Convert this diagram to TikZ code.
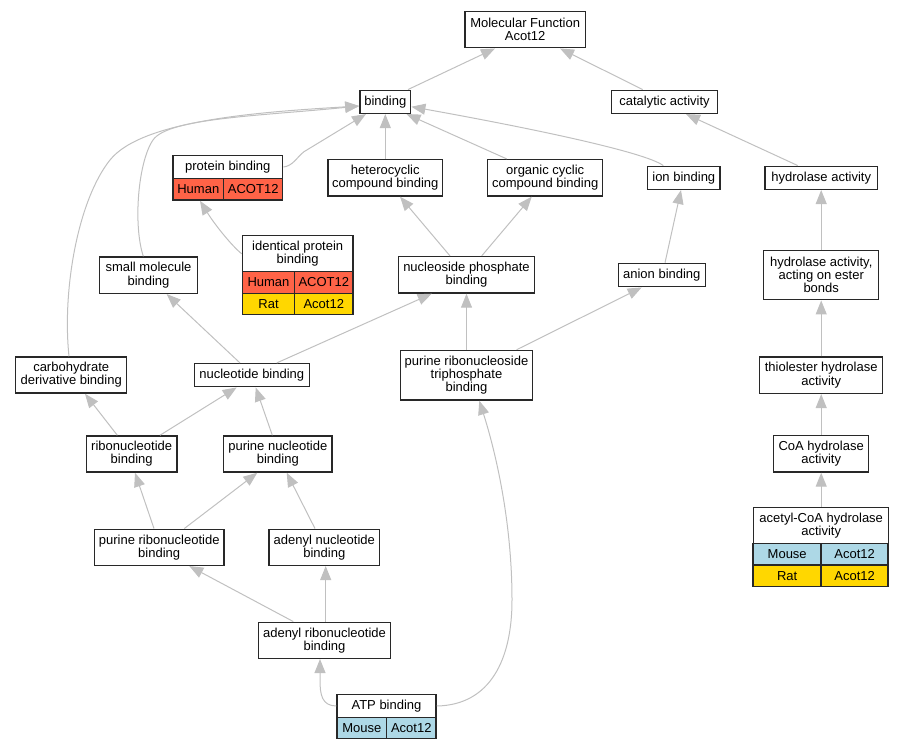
\documentclass[tikz,border=0pt]{standalone}
\usepackage{fontspec}
\newfontfamily\gofont{Liberation Sans}
\usetikzlibrary{arrows.meta}
\definecolor{edgegray}{RGB}{192,192,192}
\definecolor{bordergray}{RGB}{40,40,40}
\definecolor{human}{RGB}{255,99,71}
\definecolor{rat}{RGB}{255,215,0}
\definecolor{mouse}{RGB}{173,216,230}
\begin{document}
\begin{tikzpicture}[x=1pt,y=-1pt,
  gobox/.style={draw=bordergray, line width=1.5pt, fill=white, inner sep=0pt, align=center, font=\gofont\fontsize{13}{13.2}\selectfont},
  edge/.style={draw=edgegray, line width=1pt, -{Triangle[length=14pt,width=11pt]}}]
\useasboundingbox (0,0) rectangle (904,749);
% nodes
\node[gobox, minimum width=120.3pt, minimum height=36pt] (mf) at (525.2,29.7) {Molecular Function\\Acot12};
\node[gobox, minimum width=50.7pt, minimum height=23pt] (binding) at (385.3,101.8) {binding};
\node[gobox, minimum width=105.6pt, minimum height=23pt] (cat) at (664.5,101.8) {catalytic activity};
\node[gobox, minimum width=109.7pt, minimum height=22.6pt] (pbind) at (227.8,167) {protein binding};
\node[gobox, fill=human, minimum width=50.7pt, minimum height=21.7pt] (pbindA) at (198.3,189.2) {Human};
\node[gobox, fill=human, minimum width=59pt, minimum height=21.7pt] (pbindB) at (253.2,189.2) {ACOT12};
\node[gobox, minimum width=114.7pt, minimum height=36.3pt] (het) at (385.3,177.8) {heterocyclic\\compound binding};
\node[gobox, minimum width=115pt, minimum height=36.3pt] (org) at (545.2,177.8) {organic cyclic\\compound binding};
\node[gobox, minimum width=72.3pt, minimum height=23pt] (ion) at (683.8,177.8) {ion binding};
\node[gobox, minimum width=112.3pt, minimum height=23pt] (hyd) at (821.2,177.8) {hydrolase activity};
\node[gobox, minimum width=97.6pt, minimum height=36.3pt] (small) at (148.5,275.2) {small molecule\\binding};
\node[gobox, minimum width=110.7pt, minimum height=36pt] (ipb) at (297.7,253.7) {identical protein\\binding};
\node[gobox, fill=human, minimum width=52.4pt, minimum height=21.6pt] (ipbA) at (268.5,282.5) {Human};
\node[gobox, fill=human, minimum width=58.3pt, minimum height=21.6pt] (ipbB) at (323.8,282.5) {ACOT12};
\node[gobox, fill=rat, minimum width=52.4pt, minimum height=21pt] (ipbC) at (268.5,303.8) {Rat};
\node[gobox, fill=rat, minimum width=58.3pt, minimum height=21pt] (ipbD) at (323.8,303.8) {Acot12};
\node[gobox, minimum width=136.4pt, minimum height=36.3pt] (np) at (466.5,274.8) {nucleoside phosphate\\binding};
\node[gobox, minimum width=86.9pt, minimum height=23.2pt] (anion) at (661.8,275.1) {anion binding};
\node[gobox, minimum width=115pt, minimum height=49.4pt] (hest) at (821.2,275) {hydrolase activity,\\acting on ester\\bonds};
\node[gobox, minimum width=111pt, minimum height=36pt] (carb) at (71.2,375) {carbohydrate\\derivative binding};
\node[gobox, minimum width=115pt, minimum height=23pt] (nuc) at (251.8,375.2) {nucleotide binding};
\node[gobox, minimum width=132.2pt, minimum height=49.5pt] (prt) at (466.5,375.2) {purine ribonucleoside\\triphosphate\\binding};
\node[gobox, minimum width=123pt, minimum height=36.3pt] (thio) at (821.2,375.2) {thiolester hydrolase\\activity};
\node[gobox, minimum width=90.7pt, minimum height=36pt] (ribo) at (131.7,454) {ribonucleotide\\binding};
\node[gobox, minimum width=108.3pt, minimum height=36pt] (pnuc) at (277.8,454) {purine nucleotide\\binding};
\node[gobox, minimum width=95pt, minimum height=36.3pt] (coa) at (821.2,453.8) {CoA hydrolase\\activity};
\node[gobox, minimum width=135pt, minimum height=35.6pt] (acoa) at (821.2,525.5) {acetyl-CoA hydrolase\\activity};
\node[gobox, fill=mouse, minimum width=68pt, minimum height=21.7pt] (acoaA) at (787.2,554.2) {Mouse};
\node[gobox, fill=mouse, minimum width=67pt, minimum height=21.7pt] (acoaB) at (854.7,554.2) {Acot12};
\node[gobox, fill=rat, minimum width=68pt, minimum height=21.7pt] (acoaC) at (787.2,575.8) {Rat};
\node[gobox, fill=rat, minimum width=67pt, minimum height=21.7pt] (acoaD) at (854.7,575.8) {Acot12};
\node[gobox, minimum width=129.7pt, minimum height=36pt] (pribo) at (159.2,547.3) {purine ribonucleotide\\binding};
\node[gobox, minimum width=110.7pt, minimum height=36pt] (anuc) at (324.3,547.3) {adenyl nucleotide\\binding};
\node[gobox, minimum width=132.4pt, minimum height=36pt] (aribo) at (324.5,640.3) {adenyl ribonucleotide\\binding};
\node[gobox, minimum width=99pt, minimum height=22.6pt] (atp) at (386.5,706) {ATP binding};
\node[gobox, fill=mouse, minimum width=49.7pt, minimum height=21.4pt] (atpA) at (361.8,728) {Mouse};
\node[gobox, fill=mouse, minimum width=49.3pt, minimum height=21.4pt] (atpB) at (411.3,728) {Acot12};
% edges
\draw[edge] ([xshift=22.7pt]binding.north) -- ([xshift=-30.2pt]mf.south);
\draw[edge] ([xshift=-21.8pt]cat.north) -- ([xshift=34.8pt]mf.south);
\draw[edge] ([xshift=-23.5pt]hyd.north) -- ([xshift=21.5pt]cat.south);
\draw[edge] (hest.north) -- (hyd.south);
\draw[edge] (thio.north) -- (hest.south);
\draw[edge] (coa.north) -- (thio.south);
\draw[edge] (acoa.north) -- (coa.south);
\draw[edge] (pbind.east) .. controls (293,166) and (297,157) .. (304,151.7) -- ([xshift=-19.3pt]binding.south);
\draw[edge] (het.north) -- (binding.south);
\draw[edge] ([xshift=-38.5pt]org.north) -- ([xshift=21.2pt]binding.south);
\draw[edge] ([xshift=-20.5pt]ion.north) .. controls (645,152) and (530,128) .. ([yshift=-4.9pt]binding.east);
\draw[edge] ([xshift=-5.2pt]small.north) .. controls (133,225) and (138,162) .. (153,140) .. controls (168,118) and (260,116) .. ([yshift=-4.2pt]binding.west);
\draw[edge] ([xshift=-2.2pt]carb.north) .. controls (62,290) and (78,200) .. (110,160) .. controls (142,120) and (260,112) .. ([yshift=-4.2pt]binding.west);
\draw[edge] (ipb.west) .. controls (232,246) and (215,225) .. ([xshift=1.7pt]pbindA.south);
\draw[edge] ([xshift=-16.5pt]np.north) -- ([xshift=14.7pt]het.south);
\draw[edge] ([xshift=15.2pt]np.north) -- ([xshift=-13.5pt]org.south);
\draw[edge] ([xshift=3.2pt]anion.north) -- ([xshift=-2.8pt]ion.south);
\draw[edge] ([xshift=-11.8pt]nuc.north) -- ([xshift=18.2pt]small.south);
\draw[edge] ([xshift=24.9pt]nuc.north) -- ([xshift=-34.8pt]np.south);
\draw[edge] (prt.north) -- (np.south);
\draw[edge] ([xshift=50.2pt]prt.north) -- ([xshift=-20.1pt]anion.south);
\draw[edge] ([xshift=-14.4pt]ribo.north) -- ([xshift=13.8pt]carb.south);
\draw[edge] ([xshift=28.3pt]ribo.north) -- ([xshift=-15.1pt]nuc.south);
\draw[edge] ([xshift=-5.5pt]pnuc.north) -- ([xshift=3.9pt]nuc.south);
\draw[edge] ([xshift=-5.2pt]pribo.north) -- ([xshift=3.3pt]ribo.south);
\draw[edge] ([xshift=25.1pt]pribo.north) -- ([xshift=-20.5pt]pnuc.south);
\draw[edge] ([xshift=-9.3pt]anuc.north) -- ([xshift=8.9pt]pnuc.south);
\draw[edge] ([xshift=-31.2pt]aribo.north) -- ([xshift=30.1pt]pribo.south);
\draw[edge] ([xshift=1.2pt]aribo.north) -- ([xshift=1.4pt]anuc.south);
\draw[edge] (atp.west) .. controls (322,705.7) and (320,695) .. (320,680) -- ([xshift=-4.5pt]aribo.south);
\draw[edge] (atp.east) .. controls (490,705) and (512,660) .. (512,600) .. controls (512,520) and (495,450) .. ([xshift=12.8pt]prt.south);
\end{tikzpicture}
\end{document}
